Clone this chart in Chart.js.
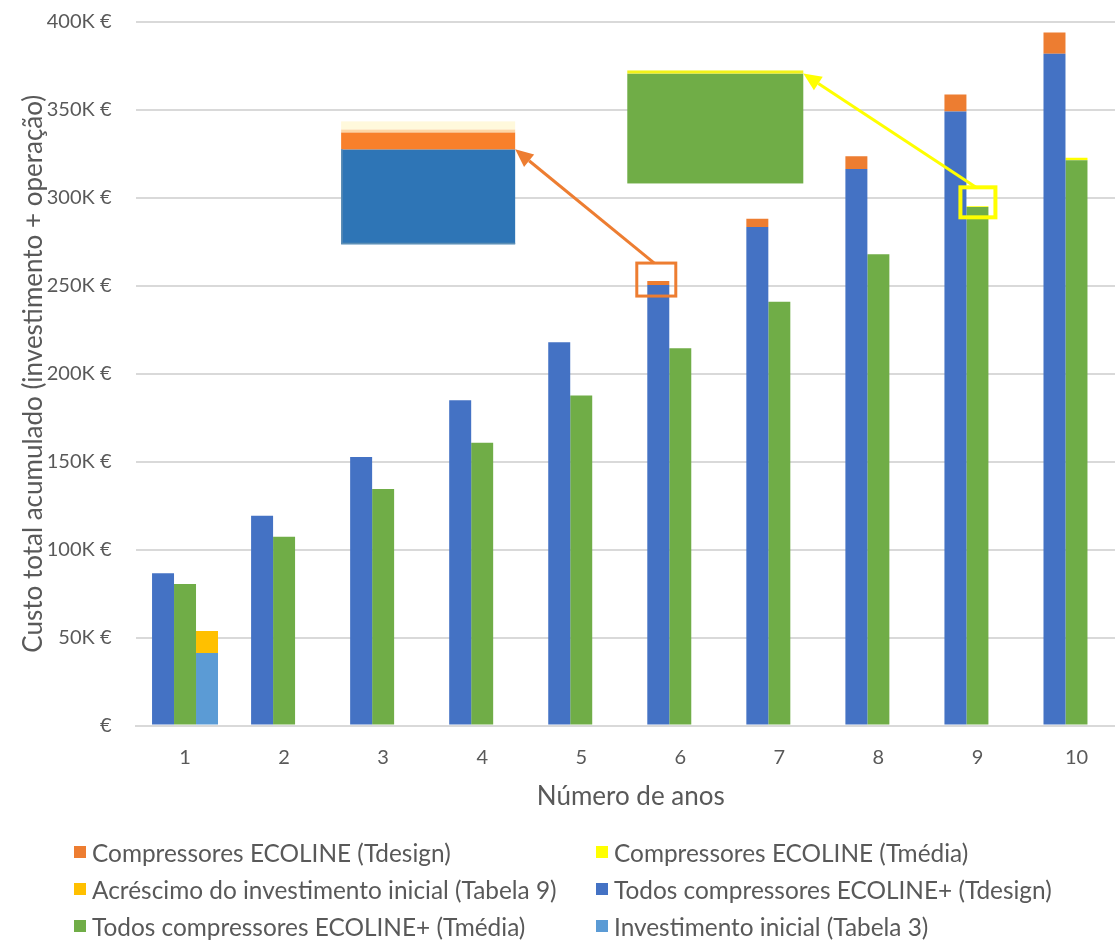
<!DOCTYPE html>
<html>
<head>
<meta charset="utf-8">
<script src="https://cdn.jsdelivr.net/npm/chart.js@4.4.1/dist/chart.umd.min.js"></script>
<style>
  html, body { margin: 0; padding: 0; background: #fff; overflow: hidden; width: 1115px; height: 942px; }
  #wrap { position: absolute; left: 0; top: 0; width: 1140px; height: 830px; }
  #legend { position: absolute; left: 0; top: 0; width: 1115px; height: 942px; pointer-events: none; }
  .item { position: absolute; display: flex; align-items: center; height: 30px;
          font-family: Lato, "Open Sans", sans-serif; font-size: 24.4px; color: #595959; white-space: nowrap; }
  .sw { width: 12px; height: 12px; margin-right: 6px; flex: none; }
</style>
</head>
<body>
<div id="wrap"><canvas id="c" width="1140" height="830"></canvas></div>
<div id="legend"></div>
<script>
// Accumulated cost per year, in thousands of euros
const anos = ['1', '2', '3', '4', '5', '6', '7', '8', '9', '10'];
const todosTdesign   = [86.5, 119.3, 152.6, 185.0, 217.9, 250.5, 283.4, 316.4, 349.1, 381.9];
const ecolineTdesign = [0, 0, 0, 0, 0, 2.2, 4.8, 7.2, 9.7, 12.1];
const todosTmedia    = [80.4, 107.3, 134.4, 160.7, 187.6, 214.5, 241.0, 267.9, 294.8, 321.4];
const ecolineTmedia  = [0, 0, 0, 0, 0, 0, 0, 0, 0.4, 1.4];
const investInicial  = [41.2, null, null, null, null, null, null, null, null, null];
const acrescimo      = [12.5, null, null, null, null, null, null, null, null, null];
const yTickLabels    = ['€', '50K €', '100K €', '150K €', '200K €', '250K €', '300K €', '350K €', '400K €'];

const C = {
  azul: '#4472c4', laranja: '#ed7d31', verde: '#70ad47', amarelo: '#ffff00',
  dourado: '#ffc000', azulClaro: '#5b9bd5', texto: '#595959', grelha: '#d9d9d9'
};
const FONT = 'Lato, "Open Sans", sans-serif';

const datasets = [
  { label: 'Todos compressores ECOLINE+ (Tdesign)', data: todosTdesign, backgroundColor: C.azul, stack: 'tdesign' },
  { label: 'Compressores ECOLINE (Tdesign)', data: ecolineTdesign, backgroundColor: C.laranja, stack: 'tdesign' },
  { label: 'Todos compressores ECOLINE+ (Tmédia)', data: todosTmedia, backgroundColor: C.verde, stack: 'tmedia' },
  { label: 'Compressores ECOLINE (Tmédia)', data: ecolineTmedia, backgroundColor: C.amarelo, stack: 'tmedia' },
  { label: 'Investimento inicial (Tabela 3)', data: investInicial, backgroundColor: C.azulClaro, stack: 'invest' },
  { label: 'Acréscimo do investimento inicial (Tabela 9)', data: acrescimo, backgroundColor: C.dourado, stack: 'invest' }
];

// Magnified views of two stack tops, linked to a box around the bar by an arrow
const zooms = [
  { base: 0, cap: 1, index: 5, color: '#ed7d31', box: { l: 21.5, r: 17.5, t: 18, b: 15 }, lw: 3,
    view: { x0: 1.576, x1: 3.333, y0: 343.5, y1: 273.6 }, split: 28,
    fillBase: '#2e75b6', fillCap: '#f8802b', halo: '#fdd6a6', top: '#fff9dc' },
  { base: 2, cap: 3, index: 8, color: '#ffff00', box: { l: 17, r: 18, t: 19, b: 11 }, lw: 4,
    view: { x0: 4.465, x1: 6.242, y0: 372.4, y1: 308.2 }, split: 3,
    fillBase: '#70ad47', fillCap: '#f2f21a', halo: null, top: null }
];
const MAG = 4.4;

function arrow(ctx, x0, y0, x1, y1, color) {
  const a = Math.atan2(y1 - y0, x1 - x0), len = 18, half = 8;
  const bx = x1 - len * Math.cos(a), by = y1 - len * Math.sin(a);
  ctx.strokeStyle = color; ctx.lineWidth = 3;
  ctx.beginPath(); ctx.moveTo(x0, y0); ctx.lineTo(bx, by); ctx.stroke();
  ctx.fillStyle = color;
  ctx.beginPath();
  ctx.moveTo(x1, y1);
  ctx.lineTo(bx + half * Math.sin(a), by - half * Math.cos(a));
  ctx.lineTo(bx - half * Math.sin(a), by + half * Math.cos(a));
  ctx.closePath(); ctx.fill();
}

const zoomPlugin = {
  id: 'zoomViews',
  afterDatasetsDraw(chart) {
    const ctx = chart.ctx, xs = chart.scales.x, ys = chart.scales.y;
    const pxPerUnit = Math.abs(ys.getPixelForValue(1) - ys.getPixelForValue(0));
    zooms.forEach(z => {
      const baseEl = chart.getDatasetMeta(z.base).data[z.index];
      const capVal = chart.data.datasets[z.cap].data[z.index] || 0;
      const topY = baseEl.y - capVal * pxPerUnit;
      const cx = baseEl.x;
      ctx.save();
      // source box
      const bx0 = cx - z.box.l, bx1 = cx + z.box.r, by0 = topY - z.box.t, by1 = topY + z.box.b;
      ctx.strokeStyle = z.color; ctx.lineWidth = z.lw;
      ctx.strokeRect(bx0, by0, bx1 - bx0, by1 - by0);
      // magnified view
      const vx0 = xs.getPixelForValue(z.view.x0), vx1 = xs.getPixelForValue(z.view.x1);
      const vy0 = ys.getPixelForValue(z.view.y0), vy1 = ys.getPixelForValue(z.view.y1);
      const splitY = vy0 + z.split;
      const capH = capVal * pxPerUnit * MAG;
      ctx.fillStyle = z.fillBase;
      ctx.fillRect(vx0, splitY, vx1 - vx0, vy1 - splitY);
      ctx.fillStyle = z.fillCap;
      ctx.fillRect(vx0, splitY - capH, vx1 - vx0, capH);
      if (z.halo) { ctx.fillStyle = z.halo; ctx.fillRect(vx0, splitY - capH - 3, vx1 - vx0, 3); }
      if (z.top) { ctx.fillStyle = z.top; ctx.fillRect(vx0, vy0, vx1 - vx0, splitY - capH - 3 - vy0); }
      if (z.base === 0) {
        ctx.strokeStyle = '#5e8fb5'; ctx.lineWidth = 1.5;
        ctx.beginPath(); ctx.moveTo(vx0 + 0.75, splitY); ctx.lineTo(vx0 + 0.75, vy1 - 0.75); ctx.lineTo(vx1, vy1 - 0.75); ctx.stroke();
      }
      // arrow from the box to the view
      arrow(ctx, (bx0 + bx1) / 2 - 2, by0, vx1, splitY, z.color);
      ctx.restore();
    });
  }
};

const chart = new Chart(document.getElementById('c'), {
  type: 'bar',
  data: { labels: anos, datasets },
  plugins: [zoomPlugin],
  options: {
    responsive: false,
    animation: false,
    layout: { padding: { top: 22, right: 14, left: 0, bottom: 0 } },
    datasets: { bar: { categoryPercentage: 0.666, barPercentage: 1, borderWidth: 0 } },
    plugins: { legend: { display: false }, tooltip: { enabled: false } },
    scales: {
      x: {
        stacked: true,
        grid: { display: false, drawTicks: false },
        border: { color: C.grelha, width: 2 },
        ticks: { color: C.texto, font: { family: FONT, size: 20 }, padding: 20 },
        title: { display: true, text: 'Número de anos', color: C.texto,
                 font: { family: FONT, size: 26 }, padding: { top: 0, bottom: 18 } },
        afterFit(s) { s.height = 104.5; }
      },
      y: {
        stacked: true, min: 0, max: 400,
        grid: { color: C.grelha, lineWidth: 2, drawTicks: true, tickLength: 24, tickColor: 'rgba(0,0,0,0)' },
        border: { display: false },
        ticks: { stepSize: 50, color: C.texto, font: { family: FONT, size: 20 }, padding: 0,
                 callback: (v, i) => yTickLabels[i] },
        title: { display: true, text: 'Custo total acumulado (investimento + operação)', color: C.texto,
                 font: { family: FONT, size: 26 }, padding: { top: 18, bottom: 0 } },
        afterFit(s) { s.width = 135.5; }
      }
    }
  }
});

// Legend: two columns, three rows
const legendOrder = [1, 3, 5, 0, 2, 4];
const legendCols = [74, 596];
const legendRows = [852, 889, 926];
const leg = document.getElementById('legend');
legendOrder.forEach((di, k) => {
  const ds = datasets[di];
  const it = document.createElement('div');
  it.className = 'item';
  it.style.left = legendCols[k % 2] + 'px';
  it.style.top = (legendRows[Math.floor(k / 2)] - 15) + 'px';
  const sw = document.createElement('span');
  sw.className = 'sw'; sw.style.background = ds.backgroundColor;
  it.appendChild(sw);
  it.appendChild(document.createTextNode(ds.label));
  leg.appendChild(it);
});
</script>
</body>
</html>
